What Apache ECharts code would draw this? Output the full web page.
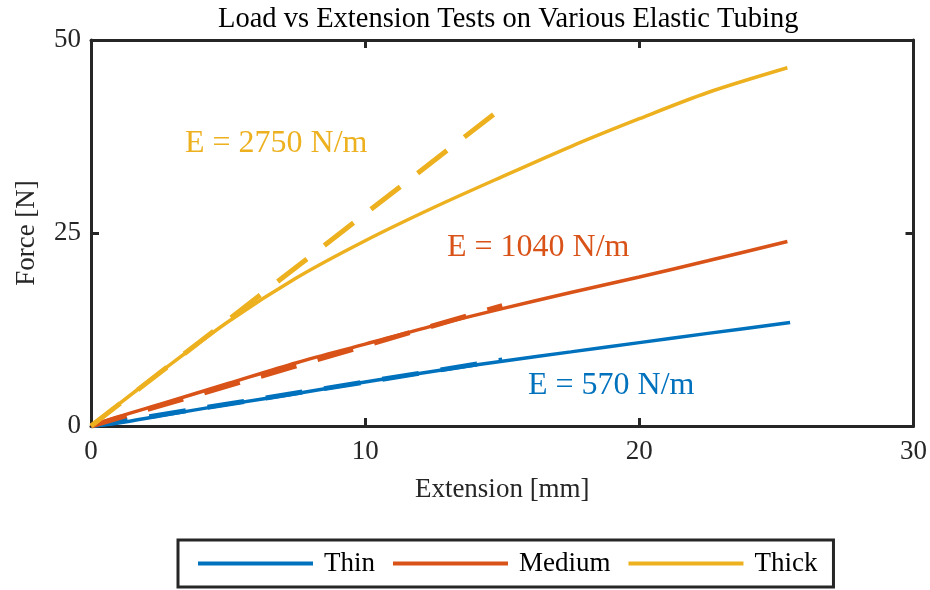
<!DOCTYPE html>
<html>
<head>
<meta charset="utf-8">
<script src="https://cdn.jsdelivr.net/npm/echarts@6/dist/echarts.min.js"></script>
<style>
  html, body { margin: 0; padding: 0; background: #fff; }
  #main { width: 930px; height: 590px; }
</style>
</head>
<body>
<div id="main"></div>
<script>
// measured curves, [extension mm, force N]
var thinData = [[0, 0], [1, 0.4], [2.5, 1.3], [5, 2.8], [7.5, 4.2], [10, 5.7], [12.5, 7.1],
  [15, 8.4], [17.5, 9.6], [20, 10.8], [22.5, 12.0], [25.5, 13.4]];
var mediumData = [[0, 0], [1, 1.2], [2.5, 2.8], [5, 5.5], [7.5, 8.2], [10, 10.6], [12.5, 13.0],
  [15, 15.2], [17.5, 17.3], [20, 19.3], [22.5, 21.4], [25.4, 23.9]];
var thickData = [[0, 0], [1, 2.8], [2.5, 6.9], [5, 13.5], [7.5, 19.2], [10, 24.0], [12.5, 28.3],
  [15, 32.3], [17.5, 36.2], [20, 39.8], [22.5, 43.2], [25.4, 46.4]];

// linear fits (dashed)
var thinFit = [[0, 0], [15, 8.55]];
var mediumFit = [[0, 0], [15, 15.6]];
var thickFit = [[0, 0], [14.7, 40.4]];

var names = ['Thin', 'Medium', 'Thick'];
var colors = ['#0072BD', '#D95319', '#EDB120'];
var fitLabels = ['E = 570 N/m', 'E = 1040 N/m', 'E = 2750 N/m'];

var font = '"Liberation Serif", "DejaVu Serif", serif';
var ink = '#262626';

var myChart = echarts.init(document.getElementById('main'));

function solid(name, data, color) {
  return {
    name: name, type: 'line', data: data, showSymbol: false, symbol: 'none',
    smooth: 0.3, color: color,
    lineStyle: { width: 3.5, color: color }
  };
}
function dashed(name, data, color) {
  return {
    name: name, type: 'line', data: data, showSymbol: false, symbol: 'none',
    color: color,
    lineStyle: { width: 5, color: color, type: [37, 22], cap: 'butt' }
  };
}

// box look: every side drawn, ticks pointing in
function boxAxis() {
  return {
    axisLine: { show: true, onZero: false, lineStyle: { color: ink, width: 3 } },
    axisTick: { show: true, inside: true, length: 8, lineStyle: { color: ink, width: 3 } },
    splitLine: { show: false }
  };
}

var option = {
  animation: false,
  backgroundColor: '#fff',
  title: {
    text: 'Load vs Extension Tests on Various Elastic Tubing',
    left: 213, top: 0,
    textStyle: { fontFamily: font, fontSize: 28.5, fontWeight: 'normal', color: '#000' }
  },
  grid: { left: 91, right: 15, top: 40, bottom: 164 },
  legend: {
    data: names,
    left: 178, top: 540,
    padding: [10, 16, 10, 20],
    itemGap: 18,
    itemWidth: 115,
    itemHeight: 4,
    icon: 'rect',
    borderWidth: 3,
    borderColor: ink,
    textStyle: { fontFamily: font, fontSize: 27, color: '#000', padding: [0, 0, 0, 6] }
  },
  xAxis: [
    Object.assign({
      type: 'value', min: 0, max: 30, interval: 10,
      name: 'Extension [mm]', nameLocation: 'middle', nameGap: 50,
      nameTextStyle: { fontFamily: font, fontSize: 27, color: ink },
      axisLabel: { fontFamily: font, fontSize: 27, color: ink, margin: 12 }
    }, boxAxis()),
    Object.assign({
      type: 'value', min: 0, max: 30, interval: 10, position: 'top',
      axisLabel: { show: false }
    }, boxAxis())
  ],
  yAxis: [
    Object.assign({
      type: 'value', min: 0, max: 50, interval: 25,
      name: 'Force [N]', nameLocation: 'middle', nameGap: 51,
      nameTextStyle: { fontFamily: font, fontSize: 27, color: ink },
      axisLabel: { fontFamily: font, fontSize: 27, color: ink, margin: 10 }
    }, boxAxis()),
    Object.assign({
      type: 'value', min: 0, max: 50, interval: 25, position: 'right',
      axisLabel: { show: false }
    }, boxAxis())
  ],
  series: [
    solid(names[0], thinData, colors[0]),
    solid(names[1], mediumData, colors[1]),
    solid(names[2], thickData, colors[2]),
    dashed('Thin fit', thinFit, colors[0]),
    dashed('Medium fit', mediumFit, colors[1]),
    dashed('Thick fit', thickFit, colors[2])
  ],
  graphic: [
    { type: 'text', left: 528, top: 370,
      style: { text: fitLabels[0], fill: colors[0], font: '32px ' + font } },
    { type: 'text', left: 447, top: 232,
      style: { text: fitLabels[1], fill: colors[1], font: '32px ' + font } },
    { type: 'text', left: 185, top: 128,
      style: { text: fitLabels[2], fill: colors[2], font: '32px ' + font } }
  ]
};

myChart.setOption(option);
</script>
</body>
</html>
